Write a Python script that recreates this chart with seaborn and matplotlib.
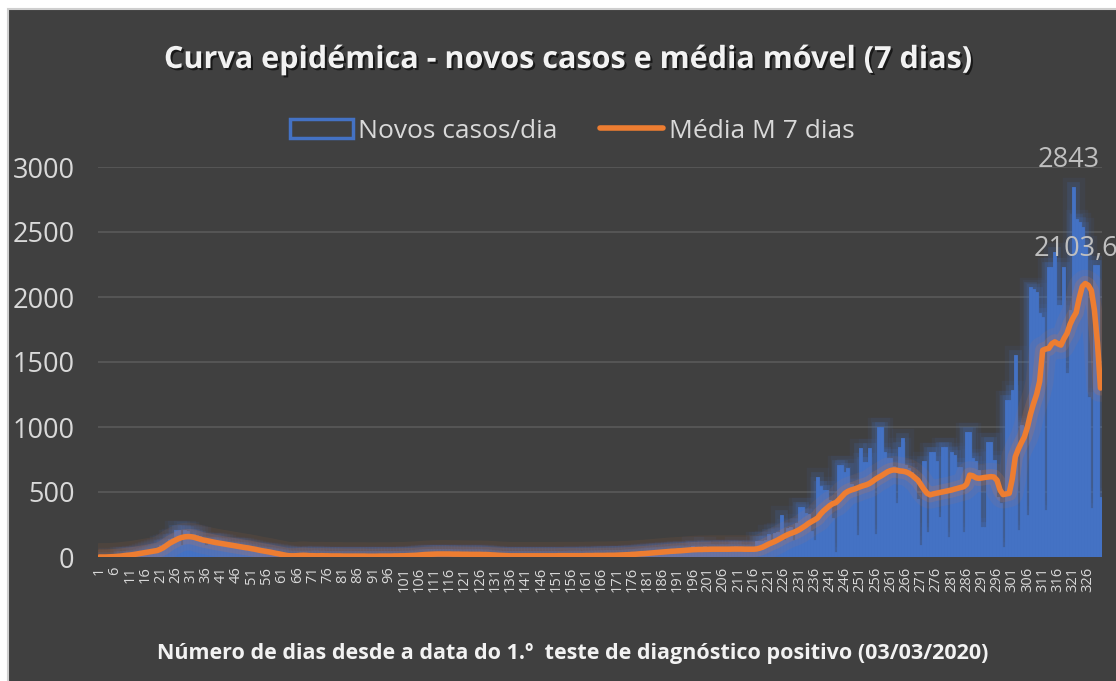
import matplotlib
matplotlib.use("Agg")
import matplotlib.pyplot as plt
import matplotlib.patheffects as pe
from matplotlib.patches import Patch, Rectangle
from matplotlib.lines import Line2D
import pandas as pd
import seaborn as sns

# ---------------- data ----------------
dias = list(range(1, 331))

novos_casos = [
    0, 0, 0, 1, 2, 2, 3, 5, 6, 8,
    10, 12, 15, 20, 30, 40, 45, 55, 60, 70,
    90, 100, 110, 140, 150, 210, 205, 95, 210, 200,
    175, 180, 170, 165, 120, 95, 115, 118, 112, 110,
    108, 100, 85, 80, 82, 78, 75, 74, 70, 65,
    60, 55, 50, 45, 42, 40, 35, 30, 28, 25,
    20, 15, 12, 10, 8, 10, 12, 9, 8, 10,
    12, 8, 15, 10, 6, 8, 9, 7, 10, 8,
    6, 8, 7, 9, 5, 6, 8, 7, 5, 6,
    7, 5, 6, 8, 9, 7, 6, 8, 10, 9,
    10, 12, 9, 11, 14, 18, 22, 25, 20, 24,
    22, 26, 21, 23, 25, 20, 24, 22, 18, 20,
    22, 18, 20, 24, 21, 19, 22, 20, 17, 15,
    12, 10, 9, 8, 10, 9, 8, 7, 9, 10,
    8, 9, 7, 10, 8, 9, 11, 8, 9, 10,
    9, 10, 8, 11, 9, 10, 12, 9, 10, 11,
    10, 12, 11, 13, 10, 12, 14, 12, 13, 15,
    14, 16, 15, 18, 20, 22, 25, 24, 28, 30,
    32, 35, 30, 38, 40, 35, 45, 42, 50, 48,
    52, 45, 55, 50, 48, 85, 60, 55, 50, 85,
    62, 58, 55, 60, 52, 58, 62, 55, 60, 85,
    58, 55, 60, 52, 55, 60, 120, 125, 120, 130,
    180, 95, 185, 190, 320, 130, 220, 230, 130, 260,
    385, 385, 340, 330, 200, 130, 615, 545, 515, 515,
    440, 300, 40, 710, 710, 655, 685, 560, 540, 170,
    835, 730, 730, 835, 600, 180, 1000, 1000, 810, 760,
    760, 700, 415, 850, 915, 710, 685, 655, 600, 450,
    92, 735, 190, 810, 810, 735, 310, 850, 850, 155,
    810, 785, 690, 690, 190, 965, 965, 765, 735, 670,
    230, 230, 885, 885, 750, 460, 415, 80, 1210, 1210,
    1285, 1555, 210, 1015, 1000, 320, 2080, 2060, 2040, 1880,
    1850, 360, 2230, 2230, 2345, 1940, 1940, 2230, 1415, 1900,
    2843, 2600, 2580, 2540, 2400, 1230, 375, 2245, 2250, 460,
]

media_movel = [
    0, 0, 0, 1, 2, 3, 5, 7, 10, 13,
    15, 18, 22, 26, 30, 34, 38, 42, 46, 50,
    60, 72, 88, 105, 118, 130, 142, 150, 155, 157,
    156, 152, 145, 138, 131, 127, 122, 117, 112, 108,
    104, 100, 96, 92, 88, 84, 80, 76, 72, 69,
    64, 60, 55, 50, 46, 42, 38, 33, 28, 24,
    19, 14, 10, 9, 9, 10, 12, 13, 12, 10,
    10, 9, 9, 10, 9, 9, 8, 8, 8, 8,
    7, 7, 7, 7, 7, 7, 7, 7, 6, 6,
    6, 6, 7, 7, 7, 7, 7, 8, 8, 9,
    9, 10, 11, 12, 13, 15, 17, 19, 20, 21,
    22, 23, 23, 23, 23, 23, 22, 22, 22, 21,
    21, 21, 20, 20, 20, 20, 19, 19, 18, 16,
    15, 13, 12, 11, 10, 9, 9, 9, 9, 9,
    9, 9, 9, 9, 9, 9, 9, 9, 9, 9,
    9, 10, 10, 10, 10, 10, 10, 10, 10, 10,
    11, 11, 11, 12, 12, 12, 12, 13, 13, 13,
    14, 15, 16, 17, 18, 20, 21, 23, 25, 26,
    28, 30, 32, 34, 36, 38, 40, 42, 44, 45,
    47, 48, 50, 52, 54, 56, 57, 58, 58, 59,
    59, 60, 60, 60, 60, 60, 60, 60, 61, 61,
    61, 61, 60, 60, 60, 60, 62, 68, 76, 88,
    100, 110, 120, 132, 145, 158, 170, 180, 188, 198,
    210, 225, 240, 258, 272, 285, 300, 330, 355, 375,
    395, 410, 418, 440, 465, 490, 505, 515, 522, 530,
    540, 548, 555, 565, 580, 598, 612, 625, 640, 655,
    665, 670, 668, 662, 660, 655, 645, 630, 610, 590,
    555, 520, 490, 478, 485, 490, 495, 500, 505, 510,
    515, 522, 528, 535, 540, 560, 630, 625, 610, 605,
    608, 612, 615, 618, 615, 590, 515, 480, 485, 490,
    600, 770, 830, 880, 925, 1000, 1100, 1180, 1250, 1350,
    1590, 1600, 1605, 1640, 1655, 1640, 1630, 1680, 1720, 1790,
    1840, 1880, 1990, 2080, 2103.6, 2090, 2050, 1900, 1650, 1300,
]

tick_dias = dias[::5]
tick_labels = [str(d) for d in tick_dias]
y_ticks = [0, 500, 1000, 1500, 2000, 2500, 3000]

titulo = "Curva epidémica - novos casos e média móvel (7 dias)"
rotulo_x = "Número de dias desde a data do 1.º  teste de diagnóstico positivo (03/03/2020)"
serie_barras = "Novos casos/dia"
serie_linha = "Média M 7 dias"
rotulo_max = "2843"
rotulo_media_max = "2103,6"

# ---------------- style ----------------
sns.set_theme(style="dark")
plt.rcParams['font.family'] = ['Open Sans', 'DejaVu Sans']

BG = '#404040'
BLUE = '#4472C4'
ORANGE = '#ED7D31'
TXT = '#D9D9D9'
W, H = 1116, 681

fig = plt.figure(figsize=(W / 100, H / 100), dpi=100)
fig.patch.set_facecolor('white')
fig.add_artist(Rectangle((8 / W, -0.01), 1.0, (H - 9) / H + 0.01, transform=fig.transFigure,
                         facecolor=BG, edgecolor='#cfcfcf', lw=1.5, zorder=-10))

ax = fig.add_axes([98 / W, 1 - 557 / H, (1102 - 98) / W, (557 - 167) / H])
ax.set_facecolor(BG)

df = pd.DataFrame({'dia': dias, 'casos': novos_casos, 'media': media_movel})

sns.barplot(data=df, x='dia', y='casos', native_scale=True, width=1.0, color=BLUE,
            saturation=1, linewidth=0.6, edgecolor=BLUE, errorbar=None, ax=ax, zorder=2)
for p in ax.patches:
    p.set_path_effects([pe.Stroke(linewidth=14, foreground=BLUE, alpha=0.08),
                        pe.Stroke(linewidth=7, foreground=BLUE, alpha=0.16),
                        pe.Normal()])

sns.lineplot(data=df, x='dia', y='media', color=ORANGE, lw=4, ax=ax, zorder=4)
ax.lines[-1].set_path_effects([pe.Stroke(linewidth=20, foreground=ORANGE, alpha=0.08),
                               pe.Stroke(linewidth=11, foreground=ORANGE, alpha=0.16),
                               pe.Normal()])
ax.lines[-1].set_solid_capstyle('round')

ax.set_xlim(0.5, 330.5)
ax.set_ylim(0, 3000)
ax.set_yticks(y_ticks)
ax.set_yticklabels([str(v) for v in y_ticks], fontsize=19.5, color=TXT)
ax.set_xticks(tick_dias)
ax.set_xticklabels(tick_labels, rotation=90, fontsize=10.5, color=TXT)
ax.tick_params(axis='y', length=0, pad=17)
ax.tick_params(axis='x', length=0, pad=7)
ax.set_xlabel('')
ax.set_ylabel('')
for s in ax.spines.values():
    s.set_visible(False)
ax.yaxis.grid(True, color='#5a5a5a', lw=1.2)
ax.xaxis.grid(False)
ax.set_axisbelow(True)
ax.axhline(0, color='#6a6a6a', lw=1.2, zorder=1)

ax.annotate(rotulo_max, xy=(321, 2843), xytext=(-4, 20), textcoords='offset pixels',
            ha='center', va='baseline', fontsize=19.5, color='#BFBFBF', annotation_clip=False)
ax.annotate(rotulo_media_max, xy=(325, 2103.6), xytext=(-52, 28), textcoords='offset pixels',
            ha='left', va='baseline', fontsize=19.5, color='#BFBFBF', annotation_clip=False)

fig.text(567 / W, 1 - 60 / H, titulo, ha='center', va='center', fontsize=22,
         weight='bold', color='#F2F2F2',
         path_effects=[pe.withSimplePatchShadow(offset=(1.5, -1.5), shadow_rgbFace='black', alpha=0.6)])

fig.text(573 / W, 1 - 653 / H, rotulo_x, ha='center', va='center', fontsize=15.5,
         weight='bold', color='#F2F2F2')

handles = [Patch(facecolor='none', edgecolor=BLUE, lw=2.5, label=serie_barras),
           Line2D([0], [0], color=ORANGE, lw=4, label=serie_linha)]
fig.legend(handles=handles, loc='center', bbox_to_anchor=(572 / W, 1 - 131 / H), ncol=2,
           frameon=False, fontsize=19, labelcolor=TXT, handlelength=2.4,
           handletextpad=0.2, columnspacing=1.6)

fig.savefig('out.png', dpi=100, facecolor=fig.get_facecolor())
